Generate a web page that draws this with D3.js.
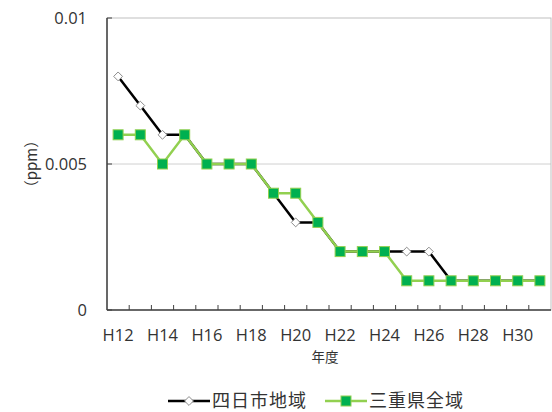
<!DOCTYPE html>
<html><head><meta charset="utf-8">
<script src="https://cdn.jsdelivr.net/npm/d3@7"></script>
<style>body{margin:0;background:#fff}svg{display:block}</style>
</head><body>
<script>
const years = ["H12","H13","H14","H15","H16","H17","H18","H19","H20","H21","H22","H23","H24","H25","H26","H27","H28","H29","H30","H31"];
const yokkaichi = [0.008,0.007,0.006,0.006,0.005,0.005,0.005,0.004,0.003,0.003,0.002,0.002,0.002,0.002,0.002,0.001,0.001,0.001,0.001,0.001];
const mie = [0.006,0.006,0.005,0.006,0.005,0.005,0.005,0.004,0.004,0.003,0.002,0.002,0.002,0.001,0.001,0.001,0.001,0.001,0.001,0.001];
const yTicks = [0, 0.005, 0.01];
const yTickLabels = ["0","0.005","0.01"];
const seriesNames = ["四日市地域","三重県全域"];

const W=552,H=412;
const m={l:107,r:551,t:18,b:310};
const svg=d3.select("body").append("svg").attr("width",W).attr("height",H);
const x=d3.scaleBand().domain(years).range([m.l,m.r]);
const y=d3.scaleLinear().domain([0,0.01]).range([m.b,m.t]);
const font="'Open Sans', 'Noto Sans', sans-serif";
const jp="'Noto Sans CJK JP', sans-serif";
const tc="#333";

svg.append("line").attr("x1",m.l).attr("x2",m.r).attr("y1",y(0.005)).attr("y2",y(0.005)).attr("stroke","#d0d0d0").attr("stroke-width",1);
svg.append("rect").attr("x",m.l).attr("y",m.t).attr("width",m.r-m.l).attr("height",m.b-m.t).attr("fill","none").attr("stroke","#bfbfbf").attr("stroke-width",1);
svg.append("line").attr("x1",m.l).attr("x2",m.l).attr("y1",m.t).attr("y2",m.b).attr("stroke","#404040").attr("stroke-width",1.5);
svg.append("line").attr("x1",m.l).attr("x2",m.r).attr("y1",m.b).attr("y2",m.b).attr("stroke","#404040").attr("stroke-width",1.5);
yTicks.forEach((t,i)=>{
  svg.append("line").attr("x1",m.l).attr("x2",m.l+5).attr("y1",y(t)).attr("y2",y(t)).attr("stroke","#404040");
  svg.append("text").attr("x",87).attr("y",y(t)).attr("dy","0.35em").attr("text-anchor","end")
    .attr("font-family",font).attr("font-size",16.5).attr("fill",tc).text(yTickLabels[i]);
});
years.forEach((yr,i)=>{
  if(i>0) svg.append("line").attr("x1",x(yr)).attr("x2",x(yr)).attr("y1",m.b).attr("y2",m.b-5).attr("stroke","#404040");
  if(i%2===0) svg.append("text").attr("x",x(yr)+x.bandwidth()/2).attr("y",335).attr("dy","0.35em").attr("text-anchor","middle")
    .attr("font-family",font).attr("font-size",16.5).attr("fill",tc).text(yr);
});
svg.append("text").attr("x",325).attr("y",357).attr("dy","0.35em").attr("text-anchor","middle")
  .attr("font-family",jp).attr("font-size",13.5).attr("fill",tc).text("年度");
svg.append("text").attr("transform",`translate(32,${y(0.005)}) rotate(-90)`).attr("dy","0.35em").attr("text-anchor","middle")
  .attr("font-family",jp).attr("font-size",15).attr("fill",tc).text("（ppm）");

const cx=d=>x(d.yr)+x.bandwidth()/2;
const line=d3.line().x(cx).y(d=>y(d.v));
const d1=years.map((yr,i)=>({yr,v:yokkaichi[i]}));
const d2=years.map((yr,i)=>({yr,v:mie[i]}));
svg.append("path").datum(d1).attr("d",line).attr("fill","none").attr("stroke","#000").attr("stroke-width",2.5);
svg.append("path").datum(d2).attr("d",line).attr("fill","none").attr("stroke","#92D050").attr("stroke-width",2.5);
const diamond=d3.symbol().type(d3.symbolDiamond2).size(50);
svg.selectAll(".dm").data(d1).enter().append("path").attr("d",diamond)
  .attr("transform",d=>`translate(${cx(d)},${y(d.v)})`).attr("fill","#fff").attr("stroke","#8c8c8c").attr("stroke-width",1);
svg.selectAll(".sq").data(d2).enter().append("rect").attr("x",d=>cx(d)-5).attr("y",d=>y(d.v)-5).attr("width",10).attr("height",10)
  .attr("fill","#00B050").attr("stroke","#92D050").attr("stroke-width",1);

const ly=401;
const lg=svg.append("g");
lg.append("line").attr("x1",168).attr("x2",210).attr("y1",ly).attr("y2",ly).attr("stroke","#000").attr("stroke-width",2.5);
lg.append("path").attr("d",diamond).attr("transform",`translate(189,${ly})`).attr("fill","#fff").attr("stroke","#8c8c8c");
lg.append("text").attr("x",212).attr("y",ly).attr("dy","0.35em").attr("font-family",jp).attr("font-size",18).attr("letter-spacing",1).attr("fill",tc).text(seriesNames[0]);
lg.append("line").attr("x1",325).attr("x2",367).attr("y1",ly).attr("y2",ly).attr("stroke","#92D050").attr("stroke-width",2.5);
lg.append("rect").attr("x",341).attr("y",ly-5).attr("width",10).attr("height",10).attr("fill","#00B050").attr("stroke","#92D050");
lg.append("text").attr("x",369).attr("y",ly).attr("dy","0.35em").attr("font-family",jp).attr("font-size",18).attr("letter-spacing",1).attr("fill",tc).text(seriesNames[1]);
</script>
</body></html>
